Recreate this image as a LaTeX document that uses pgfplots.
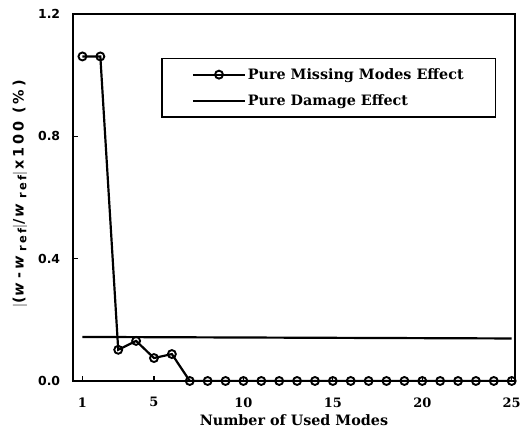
\documentclass[border=0pt]{standalone}
\usepackage{pgfplots}
\pgfplotsset{compat=1.18}
\usepackage{fontspec}
\setmainfont{DejaVu Serif}
\setsansfont{DejaVu Sans}
\newcommand{\subref}{\raisebox{-0.35ex}{\fontsize{11.5}{11.5}\selectfont\addfontfeature{LetterSpace=18}ref}}
\begin{document}
\begin{tikzpicture}
\begin{axis}[
  name=ax,
  scale only axis, width=445pt, height=369pt,
  xmin=0.45, xmax=25.2, ymin=0, ymax=1.2,
  xtick={1,5,10,15,20,25}, ytick={0,0.4,0.8,1.2},
  tick align=inside, xtick pos=bottom, ytick pos=left,
  major tick length=5pt,
  axis line style={line width=1.8pt},
  every tick/.style={line width=1.3pt, black},
  xticklabel style={font=\fontsize{13}{15}\selectfont\bfseries, /pgf/number format/assume math mode=true, yshift=-13pt},
  yticklabel style={font=\fontsize{12.5}{15}\selectfont\sffamily\bfseries, xshift=-9pt, /pgf/number format/.cd, fixed, fixed zerofill, precision=1, assume math mode=true},
  xlabel={Number of Used Modes},
  xlabel style={font=\fontsize{14.4}{16}\selectfont\bfseries, yshift=-1pt},
  ylabel={$|$(\textit{w}\,-\,\textit{w}\,\subref$|$/\,\textit{w}\,\subref$|$\,x100 (\%)},
  ylabel style={font=\fontsize{14.5}{16}\selectfont\sffamily\bfseries\addfontfeature{LetterSpace=20}, at={(axis description cs:-0.119,0.51)}, anchor=center},
  legend style={at={(0.2,0.881)}, anchor=north west, draw=black, line width=1.8pt,
    font=\fontsize{14.4}{16}\selectfont\bfseries, row sep=10pt, inner xsep=30pt, inner ysep=8pt,
    nodes={inner sep=2pt}},
  legend cell align=left,
  legend image code/.code={
    \draw[line width=2.2pt, #1] (0cm,0cm) -- (1.83cm,0cm);
    \draw[#1, mark repeat=1] plot coordinates {(0.92cm,0cm)};
  },
]
\addplot[black, line width=2.2pt, mark=o, mark size=4pt, mark options={fill=white, line width=1.9pt}]
coordinates {
(1,1.061) (2,1.061) (3,0.102) (4,0.131) (5,0.075) (6,0.088) (7,0) (8,0) (9,0) (10,0)
(11,0) (12,0) (13,0) (14,0) (15,0) (16,0) (17,0) (18,0) (19,0) (20,0)
(21,0) (22,0) (23,0) (24,0) (25,0)
};
\addlegendentry{Pure Missing Modes Effect}
\addplot[black, line width=2.2pt, mark=none] coordinates {(1,0.144) (25,0.139)};
\addlegendentry{Pure Damage Effect}
\end{axis}
\path (ax.south west) ++(-73pt,-48pt);
\path (ax.north west) ++(451pt,14pt);
\end{tikzpicture}
\end{document}
